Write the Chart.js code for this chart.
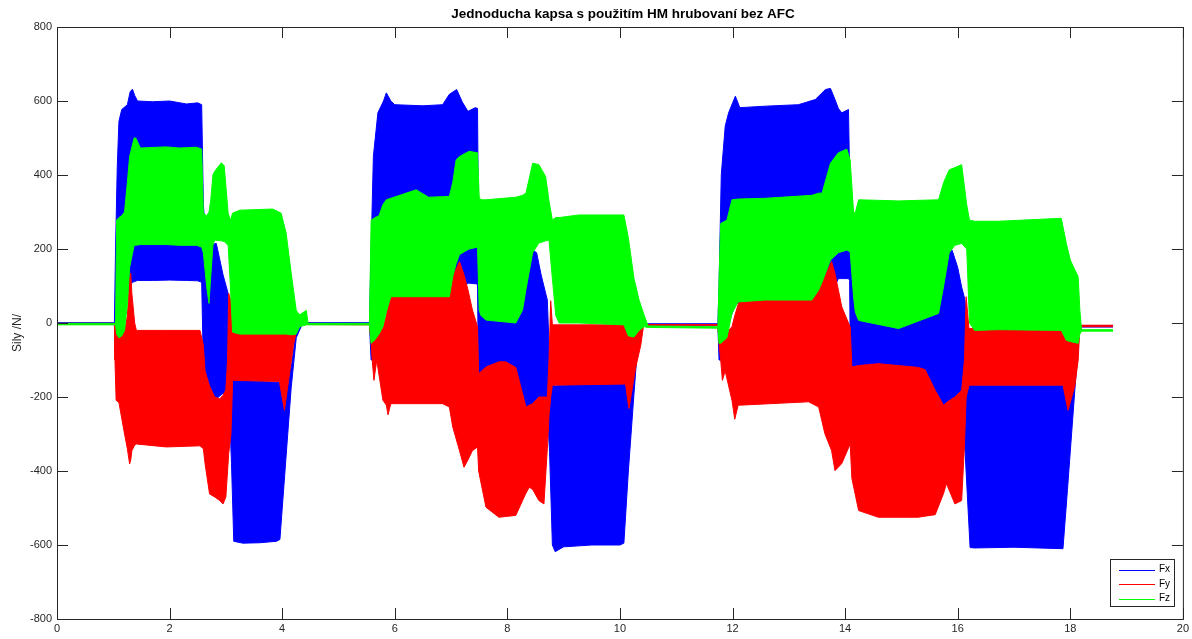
<!DOCTYPE html>
<html>
<head>
<meta charset="utf-8">
<script src="https://cdn.jsdelivr.net/npm/chart.js@4/dist/chart.umd.min.js"></script>
<style>
html,body{margin:0;padding:0;background:#fff;overflow:hidden}
canvas{display:block}
</style>
</head>
<body>
<canvas id="sily" width="1192" height="639"></canvas>
<script>
// obalky (min / max) signalu: cas [s], sila [N]
const fxTime = [0,1.02,1.04,1.07,1.1,1.15,1.25,1.3,1.34,1.38,1.43,1.7,2.0,2.3,2.5,2.57,2.6,2.65,2.75,2.83,2.95,3.04,3.08,3.1,3.14,3.3,3.6,3.9,3.96,4.05,4.16,4.25,4.35,4.45,
  5.55,5.58,5.62,5.7,5.8,5.85,5.93,6.0,6.5,6.85,6.97,7.1,7.2,7.3,7.43,7.47,7.49,7.55,8.1,8.22,8.33,8.45,8.52,8.6,8.71,8.75,8.8,8.85,9.0,9.5,10.0,10.07,10.15,10.25,10.32,10.4,
  11.74,11.76,11.8,11.87,11.93,12.05,12.13,12.58,13.17,13.47,13.65,13.74,13.82,13.88,13.94,14.06,14.08,14.1,14.15,14.2,15.5,15.66,15.75,15.8,15.9,16.0,16.07,16.13,16.22,16.3,17.0,17.87,17.95,18.08,18.16,18.2,18.76]
const fxLow = [-3,-3,-100,-150,-100,0,80,100,110,112,115,115,116,115,114,110,-120,-200,-210,-205,-190,-200,-300,-380,-590,-595,-594,-590,-585,-400,-175,-40,-5,-3,
  -3,-100,-100,-50,20,40,50,60,60,60,60,70,90,108,106,105,-220,-225,-230,-230,-230,-230,-232,-235,-240,-350,-600,-618,-605,-600,-600,-595,-400,-190,-50,-6,
  -6,-100,-100,-50,0,50,55,60,60,65,80,90,100,120,120,120,115,-225,-228,-230,-230,-230,-230,-232,-230,-230,-260,-345,-607,-608,-606,-610,-450,-182,-30,-11,-11]
const fxHigh = [1,1,200,420,545,577,590,625,632,615,600,598,600,592,595,590,320,215,212,215,130,80,-60,-120,-152,-155,-158,-160,-160,-150,-120,-20,0,1,
  1,200,450,568,600,622,600,590,587,590,618,631,597,572,582,580,200,20,30,70,120,197,190,130,62,-100,-165,-170,-168,-165,-162,-160,-150,-100,-20,-2,
  -2,100,400,532,568,613,582,586,590,604,631,634,604,580,568,577,400,188,70,20,30,40,100,189,197,150,97,62,-165,-168,-168,-168,-165,-120,-12,-7,-7]

const fyTime = [0,1.02,1.03,1.05,1.1,1.2,1.25,1.29,1.31,1.33,1.38,1.41,1.94,2.54,2.6,2.63,2.71,2.8,2.89,2.95,3.0,3.03,3.05,3.09,3.12,3.95,4.0,4.04,4.1,4.2,4.27,4.35,
  5.55,5.58,5.6,5.63,5.68,5.79,5.85,5.88,5.93,6.85,6.97,7.03,7.15,7.23,7.3,7.38,7.47,7.49,7.62,7.85,7.97,8.15,8.27,8.33,8.39,8.45,8.56,8.65,8.71,8.74,8.77,8.8,10.1,10.16,10.28,10.37,10.42,
  11.74,11.76,11.79,11.82,11.87,11.99,12.04,12.1,12.14,13.35,13.53,13.64,13.76,13.82,13.94,14.09,14.12,14.24,14.59,15.3,15.42,15.6,15.75,15.8,15.95,16.07,16.12,16.15,16.2,17.87,17.96,18.08,18.14,18.17,18.76]
const fyLow = [-4,-4,-100,-209,-215,-300,-340,-381,-370,-345,-330,-327,-335,-332,-340,-380,-462,-470,-480,-489,-470,-400,-353,-300,-155,-158,-200,-236,-170,-60,-10,-4,
  -5,-55,-101,-155,-101,-209,-222,-248,-218,-218,-227,-281,-345,-390,-370,-345,-335,-400,-498,-525,-523,-520,-480,-460,-444,-450,-480,-489,-340,-250,-200,-168,-165,-231,-120,-60,-6,
  -6,-55,-100,-155,-130,-209,-260,-222,-222,-213,-227,-299,-345,-399,-380,-327,-420,-507,-525,-525,-522,-518,-460,-434,-489,-480,-330,-200,-168,-168,-236,-170,-100,-10,-10]
const fyHigh = [-1,-1,-20,-20,-25,-25,20,120,135,80,0,-20,-20,-20,-60,-130,-170,-200,-205,-195,-180,-100,80,60,-22,-22,-25,-22,-20,-10,-4,-1,
  -2,-45,-40,-35,-30,-10,20,50,71,71,108,125,166,130,90,35,-10,-137,-119,-105,-105,-120,-191,-227,-222,-218,-200,-200,-200,-100,60,-5,-5,-10,-10,-8,-4,
  -4,-45,-40,-35,-30,-10,20,50,62,62,98,125,166,134,44,-11,-119,-115,-110,-120,-126,-182,-223,-215,-200,-182,-100,71,-15,-18,-45,-40,-30,-6,-6]

const fzTime = [0,1.04,1.06,1.1,1.15,1.2,1.25,1.29,1.37,1.4,1.48,1.94,2.17,2.48,2.57,2.6,2.66,2.7,2.73,2.77,2.8,2.92,2.97,3.04,3.08,3.12,3.25,3.83,3.98,4.07,4.16,4.25,4.31,4.43,4.46,
  5.55,5.58,5.65,5.72,5.79,5.85,5.93,6.38,6.6,6.97,7.03,7.09,7.15,7.32,7.47,7.5,7.53,7.62,8.15,8.27,8.33,8.45,8.56,8.68,8.74,8.8,8.86,8.92,9.27,10.07,10.15,10.25,10.34,10.43,10.5,
  11.74,11.76,11.79,11.9,11.99,12.1,12.58,13.41,13.53,13.59,13.74,13.88,14.03,14.09,14.15,14.18,14.24,14.95,15.66,15.75,15.85,15.95,16.07,16.16,16.21,16.3,16.72,17.84,17.93,18.0,18.14,18.17,18.2,18.76]
const fzLow = [-5,-5,-30,-40,-35,-20,50,150,210,210,212,212,210,210,205,189,97,53,124,210,224,222,220,210,100,-25,-30,-30,-30,-30,-32,-30,-10,-5,-5,
  -5,-55,-45,-30,-10,30,71,71,71,71,125,160,185,200,205,35,20,8,0,35,90,190,216,222,224,120,20,0,0,-5,-35,-38,-20,-10,-12,
  -14,-55,-55,-40,26,57,62,62,89,110,170,190,197,192,71,30,7,-15,26,100,190,210,215,200,0,-20,-18,-20,-47,-50,-55,-30,-22,-22]
const fzHigh = [-1,-1,278,285,290,300,380,450,500,500,473,476,473,475,470,297,290,300,330,400,410,433,425,297,278,297,305,308,297,243,135,34,22,34,-1,
  -1,278,285,290,320,333,337,360,340,342,380,441,450,464,460,340,333,333,340,345,351,432,428,396,330,278,285,285,292,292,230,120,62,21,-8,
  -10,116,269,278,333,335,337,345,351,351,432,460,470,440,300,297,333,330,333,380,414,420,428,320,278,275,275,283,215,170,125,35,-18,-18]

const seriesNames = ['Fx', 'Fy', 'Fz']
const seriesColors = ['#0000ff', '#ff0000', '#00ff00']
const xTickValues = [0, 2, 4, 6, 8, 10, 12, 14, 16, 18, 20]
const yTickValues = [-800, -600, -400, -200, 0, 200, 400, 600, 800]

const chartTitle = 'Jednoducha kapsa s použitím HM hrubovaní bez AFC'
const yTitle = 'Sily /N/'
const fontFamily = '"Liberation Sans", Arial, Helvetica, sans-serif'
const axisColor = '#262626'

function toPoints(t, v){
    return t.map((x, i) => ({x, y: v[i]}))
}

//! pares dataset (spodni obalka + horni obalka vyplnena k predchozi)
function envelope(name, color, t, lo, hi){
    const base = {borderColor: color, borderWidth: 1, pointRadius: 0, tension: 0}
    return [
        {...base, label: name + ' min', data: toPoints(t, lo), fill: false},
        {...base, label: name, data: toPoints(t, hi), fill: '-1', backgroundColor: color}
    ]
}

// dataset 0 se kresli nahore -> Fz, pak Fy, pak Fx
const datasets = [
    ...envelope(seriesNames[2], seriesColors[2], fzTime, fzLow, fzHigh),
    ...envelope(seriesNames[1], seriesColors[1], fyTime, fyLow, fyHigh),
    ...envelope(seriesNames[0], seriesColors[0], fxTime, fxLow, fxHigh)
]

//! ramecek, ticky dovnitr, titulek, popisek osy a legenda jako v matlabu
const matlabLook = {
    id: 'matlabLook',
    afterDraw(chart){
        const ctx = chart.ctx
        const {left, right, top, bottom} = chart.chartArea
        const xs = chart.scales.x
        const ys = chart.scales.y
        ctx.save()
        ctx.strokeStyle = axisColor
        ctx.lineWidth = 1
        ctx.beginPath()
        xTickValues.forEach(v => {
            const px = Math.round(xs.getPixelForValue(v)) + 0.5
            ctx.moveTo(px, bottom); ctx.lineTo(px, bottom - 11)
            ctx.moveTo(px, top); ctx.lineTo(px, top + 11)
        })
        yTickValues.forEach(v => {
            const py = Math.round(ys.getPixelForValue(v)) + 0.5
            ctx.moveTo(left, py); ctx.lineTo(left + 11, py)
            ctx.moveTo(right, py); ctx.lineTo(right - 11, py)
        })
        ctx.stroke()
        ctx.strokeRect(left + 0.5, top + 0.5, right - left, bottom - top)

        ctx.fillStyle = '#000'
        ctx.font = 'bold 13.5px ' + fontFamily
        ctx.textAlign = 'center'
        ctx.textBaseline = 'middle'
        ctx.fillText(chartTitle, (left + right) / 2 + 3, 14)

        ctx.fillStyle = axisColor
        ctx.font = '12px ' + fontFamily
        ctx.translate(18, 333)
        ctx.rotate(-Math.PI / 2)
        ctx.fillText(yTitle, 0, 0)
        ctx.restore()

        // legenda vpravo dole
        ctx.save()
        const lx = 1110, ly = 559, lw = 64, lh = 47
        ctx.fillStyle = '#fff'
        ctx.fillRect(lx, ly, lw, lh)
        ctx.strokeStyle = axisColor
        ctx.strokeRect(lx + 0.5, ly + 0.5, lw, lh)
        ctx.font = '10px ' + fontFamily
        ctx.textBaseline = 'middle'
        ctx.textAlign = 'left'
        seriesNames.forEach((name, i) => {
            const ry = ly + 10.5 + i * 14.5
            ctx.strokeStyle = seriesColors[i]
            ctx.beginPath()
            ctx.moveTo(lx + 9, Math.round(ry) + 0.5)
            ctx.lineTo(lx + 45, Math.round(ry) + 0.5)
            ctx.stroke()
            ctx.fillStyle = '#000'
            ctx.fillText(name, lx + 49, ry)
        })
        ctx.restore()
    }
}

const chartSily = new Chart(document.getElementById('sily').getContext('2d'), {
    type: 'line',
    data: {datasets},
    options: {
        responsive: false,
        devicePixelRatio: 1,
        animation: false,
        events: [],
        layout: {padding: {top: 27, right: 6, left: 0, bottom: 0}},
        plugins: {
            legend: {display: false},
            title: {display: false},
            tooltip: {enabled: false}
        },
        scales: {
            x: {
                type: 'linear',
                min: 0,
                max: 20,
                grid: {display: false, drawTicks: false},
                border: {display: false},
                afterBuildTicks: s => { s.ticks = xTickValues.map(v => ({value: v})) },
                afterFit: s => { s.height = 20 },
                ticks: {color: axisColor, padding: 3, maxRotation: 0, autoSkip: false, font: {size: 11, family: fontFamily}}
            },
            y: {
                type: 'linear',
                min: -800,
                max: 800,
                grid: {display: false, drawTicks: false},
                border: {display: false},
                afterBuildTicks: s => { s.ticks = yTickValues.map(v => ({value: v})) },
                afterFit: s => { s.width = 57 },
                ticks: {color: axisColor, padding: 5, font: {size: 11, family: fontFamily}}
            }
        }
    },
    plugins: [matlabLook]
})
</script>
</body>
</html>
